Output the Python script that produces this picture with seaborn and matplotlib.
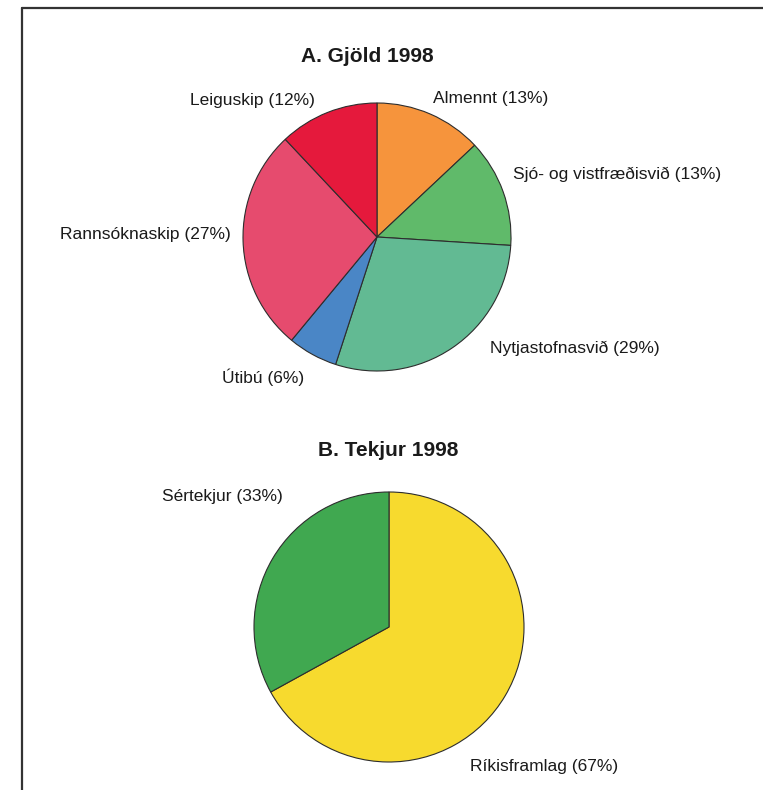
import matplotlib
matplotlib.use("Agg")
import matplotlib.pyplot as plt
from matplotlib.lines import Line2D
import seaborn as sns

# Expenditure 1998 (A) and revenue 1998 (B), shares in percent
gjold_labels = ["Almennt", "Sjó- og vistfræðisvið", "Nytjastofnasvið",
                "Útibú", "Rannsóknaskip", "Leiguskip"]
gjold_values = [13, 13, 29, 6, 27, 12]
gjold_colors = ["#F6943C", "#60BA6A", "#62BA93", "#4A86C6", "#E64B6E", "#E5193C"]

tekjur_labels = ["Ríkisframlag", "Sértekjur"]
tekjur_values = [67, 33]
tekjur_colors = ["#F7DA2E", "#40A850"]

sns.set_style("white")
plt.rcParams["font.family"] = ["Liberation Sans", "DejaVu Sans"]

W, H = 763, 790
fig = plt.figure(figsize=(W / 100, H / 100), dpi=100)
fig.patch.set_facecolor("white")


def px(x, y):
    """Pixel position (from top-left) to figure fraction."""
    return x / W, 1 - y / H


def pie_axes(cx, cy, r):
    return fig.add_axes([(cx - r) / W, (H - cy - r) / H, 2 * r / W, 2 * r / H])


def finish(ax):
    ax.set_xlim(-1, 1)
    ax.set_ylim(-1, 1)
    ax.set_aspect("equal")
    ax.axis("off")


wedge_style = dict(edgecolor="#2d2d2d", linewidth=0.8)

# A. Gjöld 1998
ax_a = pie_axes(377, 237, 134)
ax_a.pie(gjold_values, colors=sns.color_palette(gjold_colors), startangle=90,
         counterclock=False, radius=1, wedgeprops=wedge_style)
finish(ax_a)

# B. Tekjur 1998
ax_b = pie_axes(389, 627, 135)
ax_b.pie(tekjur_values, colors=sns.color_palette(tekjur_colors), startangle=90,
         counterclock=False, radius=1, wedgeprops=wedge_style)
finish(ax_b)

title_kw = dict(fontsize=15, fontweight="bold", ha="center", va="center", color="#1a1a1a")
fig.text(*px(367, 57), "A. Gjöld 1998", **title_kw)
fig.text(*px(388, 450), "B. Tekjur 1998", **title_kw)

label_kw = dict(fontsize=12.5, va="center", color="#1a1a1a")


def pct(name, v):
    return f"{name} ({v}%)"


# label anchors (left edge x, centre y) in pixels, in wedge order
gjold_pos = [(433, 98), (513, 174), (490, 348), (222, 377), (60, 234), (190, 101)]
for name, v, (x, y) in zip(gjold_labels, gjold_values, gjold_pos):
    fig.text(*px(x, y), pct(name, v), ha="left", **label_kw)

tekjur_pos = [(470, 766), (162, 497)]
for name, v, (x, y) in zip(tekjur_labels, tekjur_values, tekjur_pos):
    fig.text(*px(x, y), pct(name, v), ha="left", **label_kw)

# page frame: top and left rules
frame_kw = dict(color="#333333", linewidth=1.6, transform=fig.transFigure)
fig.add_artist(Line2D([22 / W, 1], [1 - 8 / H, 1 - 8 / H], **frame_kw))
fig.add_artist(Line2D([22 / W, 22 / W], [0, 1 - 8 / H], **frame_kw))

fig.savefig("out.png", dpi=100, facecolor="white")
